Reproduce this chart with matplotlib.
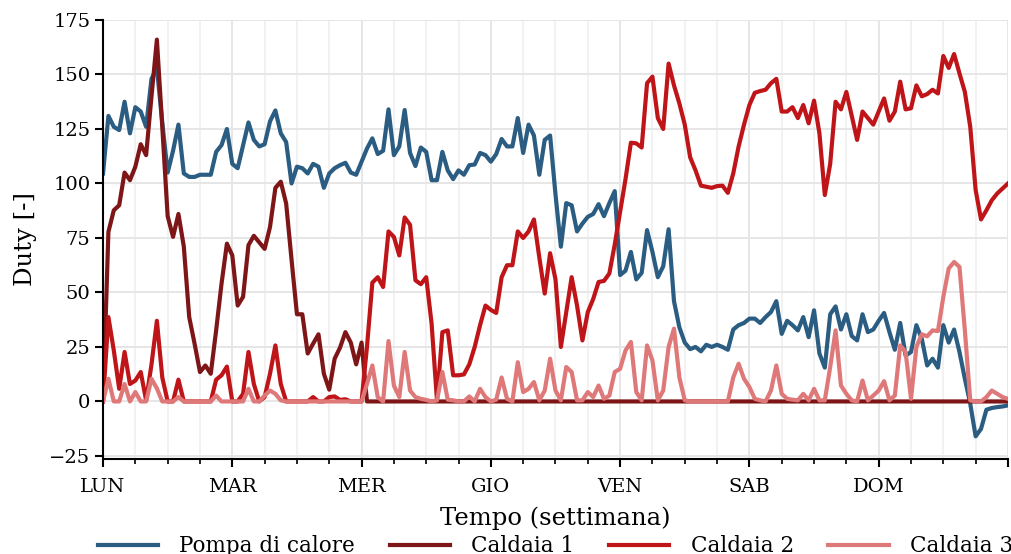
import numpy as np
import matplotlib
matplotlib.use("Agg")
import matplotlib.pyplot as plt
from matplotlib.ticker import MultipleLocator

plt.rcParams['font.family'] = ['DejaVu Serif']

# Hourly duty over one week (0..168 h)
pompa_di_calore = [
    104.6, 131, 126, 124.5, 137.5, 123, 135, 133, 126, 148, 153, 128, 105, 115, 127, 104.6,
    103, 103, 104, 104, 104, 114.5, 117.6, 125, 109, 107, 117.6, 128, 120, 117, 118, 128.5,
    133.5, 123, 119, 100, 107.7, 107, 104.6, 109, 107.7, 98, 104.6, 107, 108.4, 109.5, 105, 104,
    110, 116, 120.7, 113.5, 115, 134, 113, 117, 133.7, 114, 108, 116.5, 114.5, 101.5, 101.5, 114.5,
    106, 102, 106, 104, 108.4, 108.7, 114, 113, 110, 113.5, 120.4, 117, 117, 130, 114, 127,
    122, 104, 120, 122, 95, 71, 91, 90, 78, 81.6, 84.7, 86, 90.5, 85, 91, 96.5,
    58, 60, 68.6, 56, 59, 78.6, 68.6, 57, 62, 79, 46, 34, 27, 24, 25, 23,
    26, 25, 26, 25, 23.7, 33, 35, 36, 38, 38, 36, 38.7, 41, 46, 31, 37,
    35, 32.6, 38.7, 29.5, 41.8, 22, 15.5, 40, 43.6, 33, 40, 30, 28, 40, 31.8, 33,
    37, 40.6, 31.8, 23.7, 36, 21, 22.7, 35, 28.8, 16.5, 19.6, 15.5, 35, 27, 33, 22.7,
    10.4, -1, -16, -12.6, -3.8, -3, -2.6, -2.3, -1.8,
]

caldaia_1 = [
    0, 77.8, 87.7, 90, 105, 101.5, 107.7, 118, 113, 140, 166, 126, 85, 75.5, 86, 71,
    38.7, 26.5, 13.5, 16.5, 12.7, 32.6, 54, 72.4, 67, 44, 48, 71.7, 76, 73, 70, 80,
    98, 100.8, 90.8, 65, 40, 40, 22, 26.5, 30.8, 12.7, 5.4, 19.6, 24.7, 31.8, 27, 17,
    27,
] + [0] * 120

caldaia_2 = [
    0, 38.7, 23.4, 5.8, 22.7, 8, 9.6, 13.5, 0.5, 17, 37, 11, 0, 0, 10, 0,
    0, 0, 0, 0, 0, 10, 12, 16, 0, 0, 3.5, 22.7, 8, 0, 2, 12.7,
    25.7, 8, 0, 0, 0, 0, 0, 2, 0, 0, 2, 2.3, 0.7, 1, 0, 0,
    0, 25, 54.5, 57, 52.5, 78, 75.5, 67, 84.4, 81, 55.6, 53.8, 57, 35.7, 0.5, 31.8,
    32.6, 12, 12, 12.4, 17, 25, 35, 44, 42, 40.6, 57, 62.5, 62.5, 78, 75, 78,
    83.5, 66, 49.5, 68, 56, 25, 41, 57, 44, 28, 41, 47, 54.8, 55.3, 58.7, 72,
    87, 102, 118.7, 118.4, 116.5, 146, 149, 130, 125, 155, 145, 136.7, 127, 112, 106, 99,
    98.5, 98, 98.8, 99, 95.7, 104.6, 117, 127, 136, 141.6, 142.4, 143, 146, 148, 133, 133,
    135, 130, 136, 127.6, 138, 123, 94.7, 109, 137.5, 134, 142, 131, 120, 133, 130, 127,
    133, 139, 128.8, 133, 146.7, 134, 134.5, 145, 140, 141, 143, 141.3, 158.5, 153, 159.4, 150.5,
    142, 126, 97, 83.5, 87.7, 92.3, 95.4, 97.7, 100,
]

caldaia_3 = [
    0, 10.4, 0, 0, 8, 0, 4.3, 0, 0, 10.4, 6, 0, 0, 0, 2, 0,
    0, 0, 0, 0, 0, 2.7, 0, 0, 0, 0, 0, 5.8, 0, 0, 2.7, 5,
    3.5, 0.5, 0, 0, 0, 0, 0, 0, 0, 0, 0, 0, 0, 0, 0, 0,
    0, 8, 16.5, 2, 0, 27.7, 7.3, 2, 22.7, 5, 2, 1.2, 0.7, 0, 0.5, 13.5,
    0.8, 0.5, 0, 0, 2.3, 0, 5.8, 2, 0, 0.8, 11, 1.2, 0, 18, 4.3, 5.8,
    8.9, 0.5, 5, 19.6, 5, 0.5, 15.8, 13.5, 0.5, 0.5, 4.3, 2, 7.3, 1.2, 2.7, 13.5,
    15, 23.4, 27.3, 4.3, 0.5, 25.7, 18.8, 0.5, 5, 25, 33.4, 11, 0.5, 0, 0, 0,
    0, 0, 0, 0, 0, 11, 17.3, 10.4, 6.6, 1.2, 0.5, 0, 5, 16.5, 3.5, 1.2,
    0.8, 0.5, 3.5, 0.5, 5.8, 0.5, 0.5, 15.8, 32.6, 7.3, 3.5, 0.5, 0, 9.6, 0.5, 2.7,
    5, 9.3, 0.5, 2.7, 25.7, 22.7, 1.2, 25, 30.8, 29.9, 32.6, 32.3, 48, 61, 64, 61.7,
    32.6, 0.5, 0, 0, 2, 5, 3.5, 2, 1.2,
]

giorni = ['LUN', 'MAR', 'MER', 'GIO', 'VEN', 'SAB', 'DOM', '']
serie = ['Pompa di calore', 'Caldaia 1', 'Caldaia 2', 'Caldaia 3']
colori = ['#2b5d82', '#7e1618', '#bf1519', '#df7878']

ore = np.arange(len(pompa_di_calore))

fig = plt.figure(figsize=(10.12, 5.54), dpi=100)
ax = fig.add_axes([0.1018, 0.1715, 0.8942, 0.7924])

for valori, nome, col in zip([pompa_di_calore, caldaia_1, caldaia_2, caldaia_3], serie, colori):
    ax.plot(ore, valori, color=col, lw=3, label=nome, solid_joinstyle='round')

ax.set_xlim(0, 168)
ax.set_ylim(-26.4, 175)
ax.set_xticks(np.arange(0, 169, 24))
ax.set_xticklabels(giorni)
ax.xaxis.set_minor_locator(MultipleLocator(6))
ax.yaxis.set_major_locator(MultipleLocator(25))

ax.grid(True, which='major', color='#e6e6e6', lw=1.4)
ax.grid(True, which='minor', axis='x', color='#f0f0f0', lw=1.2)
ax.set_axisbelow(True)

for s in ['top', 'right']:
    ax.spines[s].set_visible(False)
for s in ['left', 'bottom']:
    ax.spines[s].set_linewidth(1.5)

ax.tick_params(axis='x', which='major', length=6, width=1.5, labelsize=14, pad=8)
ax.tick_params(axis='x', which='minor', length=3.5, width=1.2)
ax.tick_params(axis='y', which='major', length=6, width=1.5, labelsize=14, pad=3)

ax.set_xlabel('Tempo (settimana)', fontsize=17.5, labelpad=7)
ax.set_ylabel('Duty [-]', fontsize=17.5, labelpad=9)

ax.legend(loc='upper center', bbox_to_anchor=(0.5, -0.13), ncol=4, frameon=False,
          fontsize=15.5, handlelength=2.8, handletextpad=1.0, columnspacing=1.6)

fig.savefig('out.png', dpi=100)
